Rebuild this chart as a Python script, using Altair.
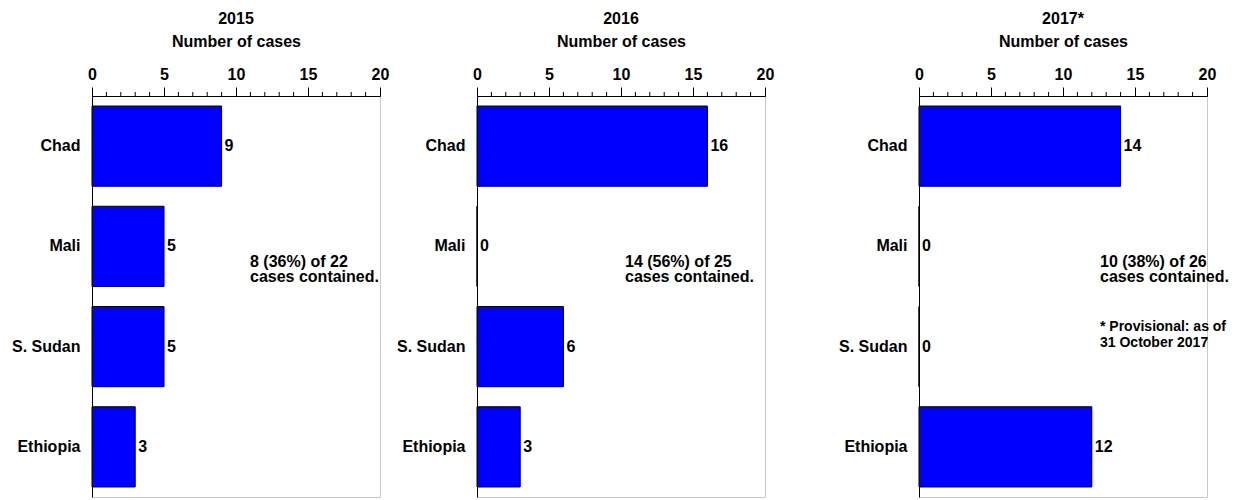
import altair as alt
import pandas as pd

countries = ["Chad", "Mali", "S. Sudan", "Ethiopia"]
years = ["2015", "2016", "2017*"]
cases_2015 = [9, 5, 5, 3]
cases_2016 = [16, 0, 6, 3]
cases_2017 = [14, 0, 0, 12]
notes = [
    ["8 (36%) of 22", "cases contained."],
    ["14 (56%) of 25", "cases contained."],
    ["10 (38%) of 26", "cases contained."],
]
footnote = ["* Provisional: as of", "31 October 2017"]
major_ticks = [0, 5, 10, 15, 20]
minor_ticks = [1, 2, 3, 4, 6, 7, 8, 9, 11, 12, 13, 14, 16, 17, 18, 19]

FONT = "Liberation Sans"
W, H = 288, 401


def panel(year, values, note, note_x, foot=None):
    df = pd.DataFrame({"country": countries, "cases": values})
    base = alt.Chart(df)
    x = alt.X(
        "cases:Q",
        scale=alt.Scale(domain=[0, 20], nice=False, zero=True),
        axis=alt.Axis(
            orient="top",
            values=major_ticks,
            tickSize=9,
            labelPadding=5,
            title="Number of cases",
            titlePadding=17,
            grid=False,
            labelFlush=False,
            labelOverlap=False,
        ),
    )
    y = alt.Y(
        "country:N",
        sort=countries,
        scale=alt.Scale(paddingInner=0.2, paddingOuter=0.1),
        axis=alt.Axis(title=None, ticks=False, tickSize=0, labelPadding=12, grid=False),
    )
    bars = base.mark_bar(color="#0000ff", stroke="black", strokeWidth=1).encode(x=x, y=y)
    labels = base.mark_text(
        align="left", baseline="middle", dx=3, font=FONT, fontWeight="bold", fontSize=16, color="black"
    ).encode(x="cases:Q", y=alt.Y("country:N", sort=countries), text="cases:Q")
    minor = alt.Chart(pd.DataFrame({"cases": minor_ticks})).mark_rule(
        color="black", strokeWidth=1
    ).encode(x=x, y=alt.value(0), y2=alt.value(-4))
    ann = alt.Chart(alt.Data(values=[{"t": note}])).mark_text(
        align="left", baseline="alphabetic", lineHeight=15, font=FONT, fontWeight="bold", fontSize=16, color="black"
    ).encode(x=alt.value(note_x), y=alt.value(171), text="t:N")
    layers = [bars, labels, minor, ann]
    if foot is not None:
        fn = alt.Chart(alt.Data(values=[{"t": foot}])).mark_text(
            align="left", baseline="alphabetic", lineHeight=16, font=FONT, fontWeight="bold", fontSize=14, color="black"
        ).encode(x=alt.value(note_x), y=alt.value(235), text="t:N")
        layers.append(fn)
    return alt.layer(*layers).properties(
        width=W,
        height=H,
        title=alt.TitleParams(year, anchor="middle", frame="group", fontSize=16, font=FONT,
                              fontWeight="bold", color="black", offset=6),
    )


p1 = panel(years[0], cases_2015, notes[0], 158)
p2 = panel(years[1], cases_2016, notes[1], 148)
p3 = panel(years[2], cases_2017, notes[2], 181, footnote)

chart = alt.hconcat(alt.hconcat(p1, p2, spacing=6), p3, spacing=63).properties(
    padding={"left": 11, "top": 10, "right": 2, "bottom": 0}
).configure_view(stroke="#c8c8c8", strokeWidth=1).configure_axis(
    domainColor="black",
    tickColor="black",
    labelColor="black",
    titleColor="black",
    labelFont=FONT,
    titleFont=FONT,
    labelFontWeight="bold",
    titleFontWeight="bold",
    labelFontSize=16,
    titleFontSize=16,
    domainWidth=1,
    tickWidth=1,
).configure_title(font=FONT)

chart.save("out.html", embed_options={"renderer": "svg", "actions": False})
